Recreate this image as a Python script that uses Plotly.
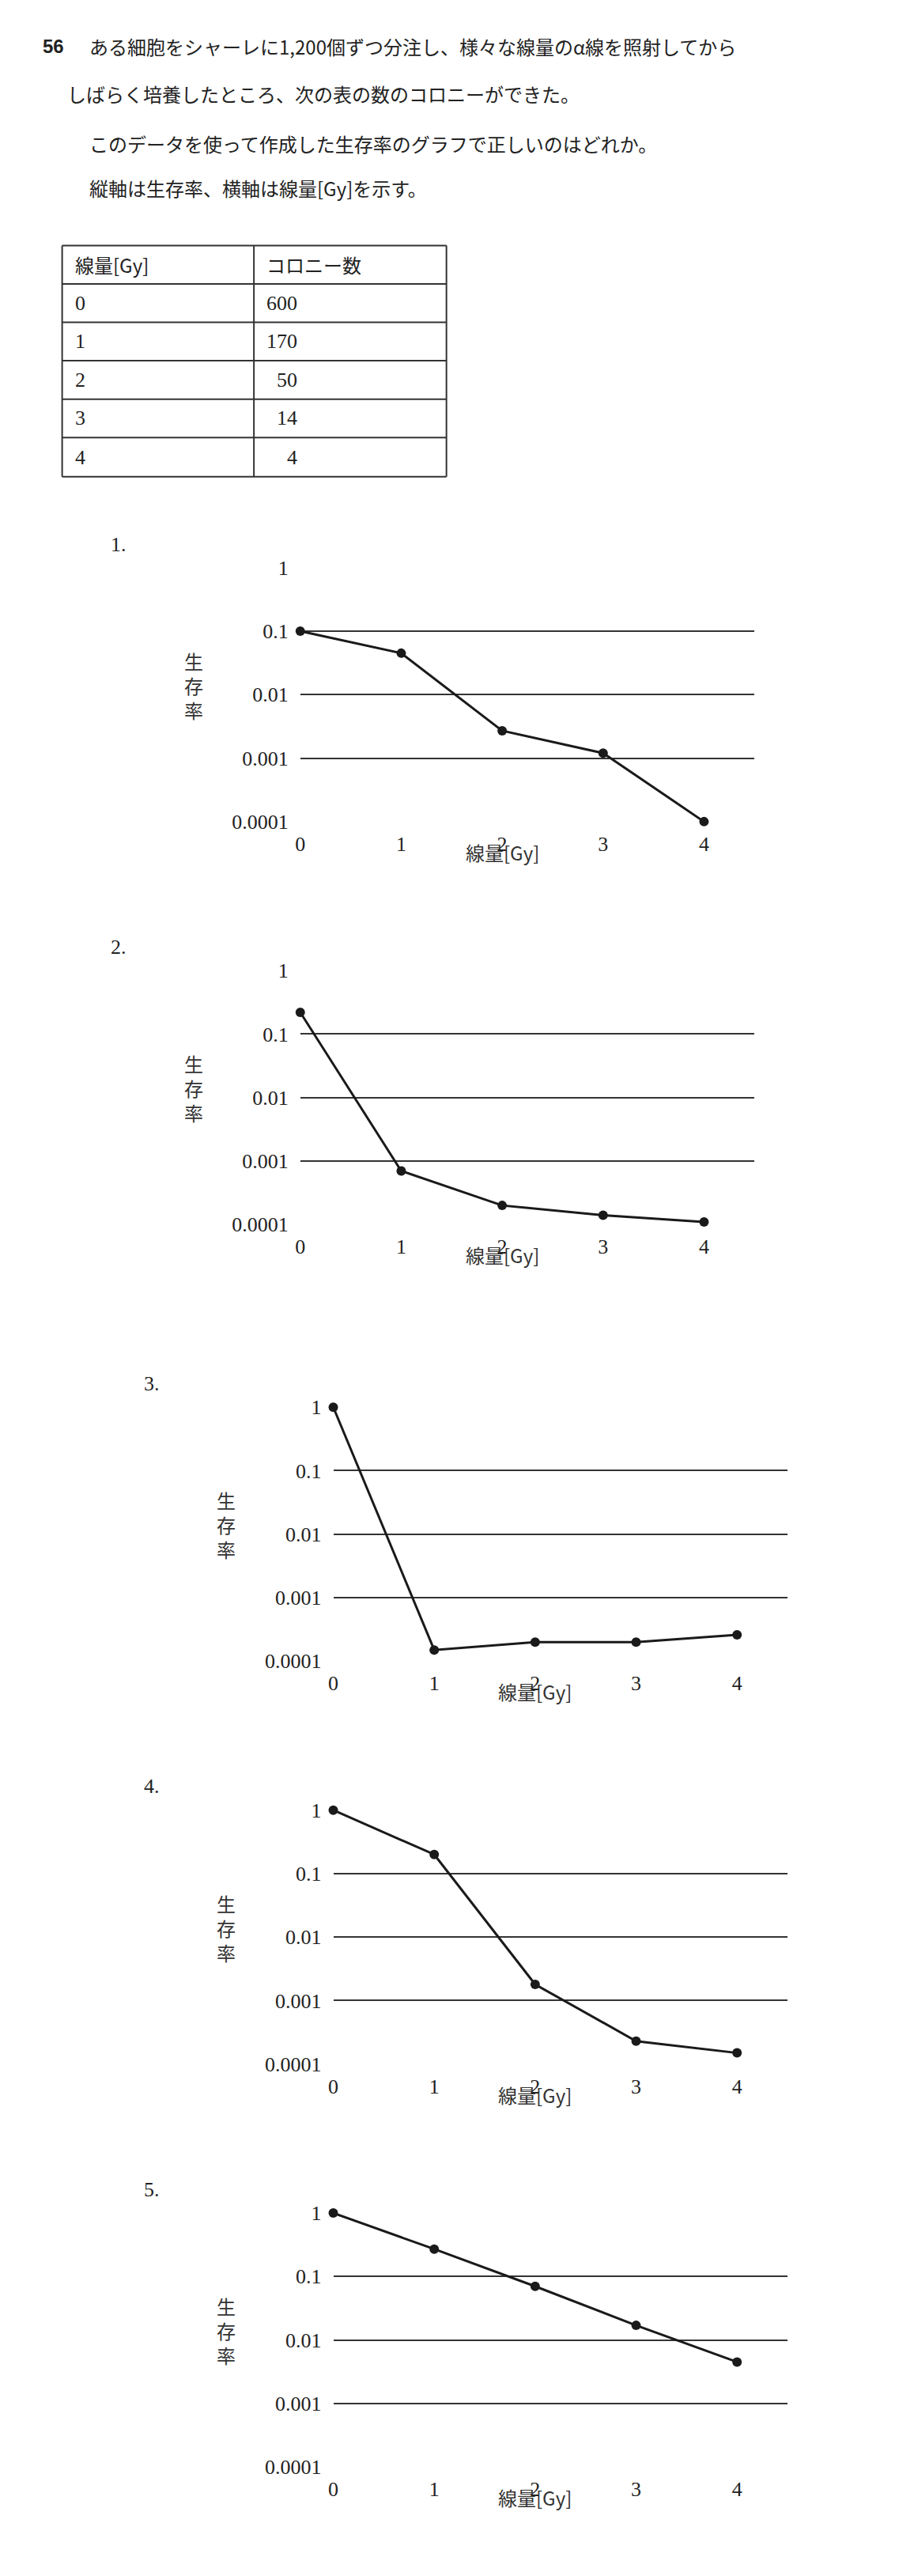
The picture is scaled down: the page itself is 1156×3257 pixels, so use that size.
import plotly.graph_objects as go

W, H = 1156, 3257

# 問題文と表
question = [
    "ある細胞をシャーレに1,200個ずつ分注し、様々な線量のα線を照射してから",
    "しばらく培養したところ、次の表の数のコロニーができた。",
    "このデータを使って作成した生存率のグラフで正しいのはどれか。",
    "縦軸は生存率、横軸は線量[Gy]を示す。",
]
table_header = ["線量[Gy]", "コロニー数"]
doses = [0, 1, 2, 3, 4]
colonies = ["600", "170", "  50", "  14", "    4"]

# 各選択肢のグラフ（生存率、読み取り値）
choice_labels = ["1.", "2.", "3.", "4.", "5."]
surv_1 = [0.1, 0.045, 0.0027, 0.0012, 0.0001]
surv_2 = [0.22, 0.0007, 0.0002, 0.00014, 0.00011]
surv_3 = [1, 0.00015, 0.0002, 0.0002, 0.00026]
surv_4 = [1, 0.2, 0.0018, 0.00023, 0.00015]
surv_5 = [1, 0.27, 0.07, 0.017, 0.0045]
survivals = [surv_1, surv_2, surv_3, surv_4, surv_5]
ytick_vals = [1, 0.1, 0.01, 0.001, 0.0001]
ytick_text = ["1", "0.1", "0.01", "0.001", "0.0001"]

CJK = "Noto Sans CJK JP"
SERIF = "Liberation Serif"


def px(x):
    return x / W


def py(y):
    return 1 - y / H


fig = go.Figure()
ann = []
shapes = []

# 問題文
ann.append(dict(x=px(37), y=py(37), text="<b>56</b>", font=dict(size=24, family="Liberation Sans")))
ann.append(dict(x=px(97), y=py(37), text=question[0], font=dict(size=24, family=CJK)))
ann.append(dict(x=px(68), y=py(97), text=question[1], font=dict(size=24, family=CJK)))
ann.append(dict(x=px(97), y=py(161), text=question[2], font=dict(size=24, family=CJK)))
ann.append(dict(x=px(97), y=py(217), text=question[3], font=dict(size=24, family=CJK)))

# 表
tx0, tx1, tx2 = 64, 308, 553
rows = [291, 341, 390, 440, 489, 537, 586]
rows = rows[:1] + rows[1:]
row_y = [291, 341, 390, 440, 489, 537, 586][:7]
row_y = [291, 341, 390, 440, 489, 537, 586]
row_y = row_y[:1] + row_y[1:]
row_lines = [291, 341, 390, 440, 489, 537, 586][:6] + [586]
row_lines = [291, 341, 390, 440, 489, 537][:6]
row_lines = [291, 341, 390, 440, 489, 537]
table_rows = [table_header] + [[str(d), c] for d, c in zip(doses, colonies)]
row_edges = [291, 340, 390, 440, 489, 538, 587][:7]
row_edges = [291, 341, 390, 439, 488, 537]
row_edges = [291, 340, 389, 438, 487, 536]
for yy in row_edges + [586]:
    shapes.append(dict(type="line", xref="paper", yref="paper", x0=px(tx0), x1=px(tx2),
                       y0=py(yy), y1=py(yy), line=dict(color="#333", width=2)))
for xx in [tx0, tx1, tx2]:
    shapes.append(dict(type="line", xref="paper", yref="paper", x0=px(xx), x1=px(xx),
                       y0=py(291), y1=py(586), line=dict(color="#333", width=2)))
edges = row_edges + [586]
for i, (a, b) in enumerate(table_rows):
    yc = (edges[i] + edges[i + 1]) / 2
    fnt = dict(size=24, family=CJK) if i == 0 else dict(size=26, family=SERIF)
    ann.append(dict(x=px(tx0 + 14), y=py(yc), text=a, font=fnt))
    ann.append(dict(x=px(tx1 + 14), y=py(yc), text=b.replace(" ", "&nbsp;"), font=fnt))

# グラフ
tops = [702, 1216, 1773, 2287, 2801]
lefts = [367, 367, 409, 409, 409]
plot_w, plot_h = 578, 324
for k, surv in enumerate(survivals):
    n = "" if k == 0 else str(k + 1)
    x0, y0 = lefts[k], tops[k]
    fig.add_trace(go.Scatter(x=doses, y=surv, mode="lines+markers", xaxis="x" + n, yaxis="y" + n,
                             line=dict(color="#1a1a1a", width=3), marker=dict(color="#1a1a1a", size=12),
                             showlegend=False, cliponaxis=False))
    fig.update_layout({
        "xaxis" + n: dict(domain=[px(x0), px(x0 + plot_w)], range=[0, 4.5], anchor="y" + n,
                          tickvals=doses, showgrid=False, zeroline=False, showline=False,
                          tickfont=dict(size=26, family=SERIF, color="#222"), ticklabelstandoff=10),
        "yaxis" + n: dict(domain=[py(y0 + plot_h), py(y0)], type="log", range=[-4, 0], anchor="x" + n,
                          tickvals=ytick_vals, ticktext=ytick_text, showgrid=True,
                          gridcolor="#333", gridwidth=2, zeroline=False, showline=False,
                          tickfont=dict(size=26, family=SERIF, color="#222"), ticklabelstandoff=14),
    })
    lx = 124 if k < 2 else 166
    ann.append(dict(x=px(lx), y=py(y0 - 30), text=choice_labels[k], font=dict(size=26, family=SERIF)))
    ann.append(dict(x=px(x0 - 150), y=py(y0 + 150), text="生<br>存<br>率", yanchor="middle",
                    font=dict(size=24, family=CJK, color="#333")))
    ann.append(dict(x=px(x0 + 257), y=py(y0 + 363), text="線量[Gy]", xanchor="center",
                    font=dict(size=24, family=CJK, color="#333")))

for a in ann:
    a.setdefault("xanchor", "left")
    a.setdefault("yanchor", "middle")
    a.update(xref="paper", yref="paper", showarrow=False)
    a["font"].setdefault("color", "#222")

fig.update_layout(width=W, height=H, margin=dict(l=0, r=0, t=0, b=0),
                  paper_bgcolor="white", plot_bgcolor="white",
                  annotations=ann, shapes=shapes)

fig.write_html("out.html")
